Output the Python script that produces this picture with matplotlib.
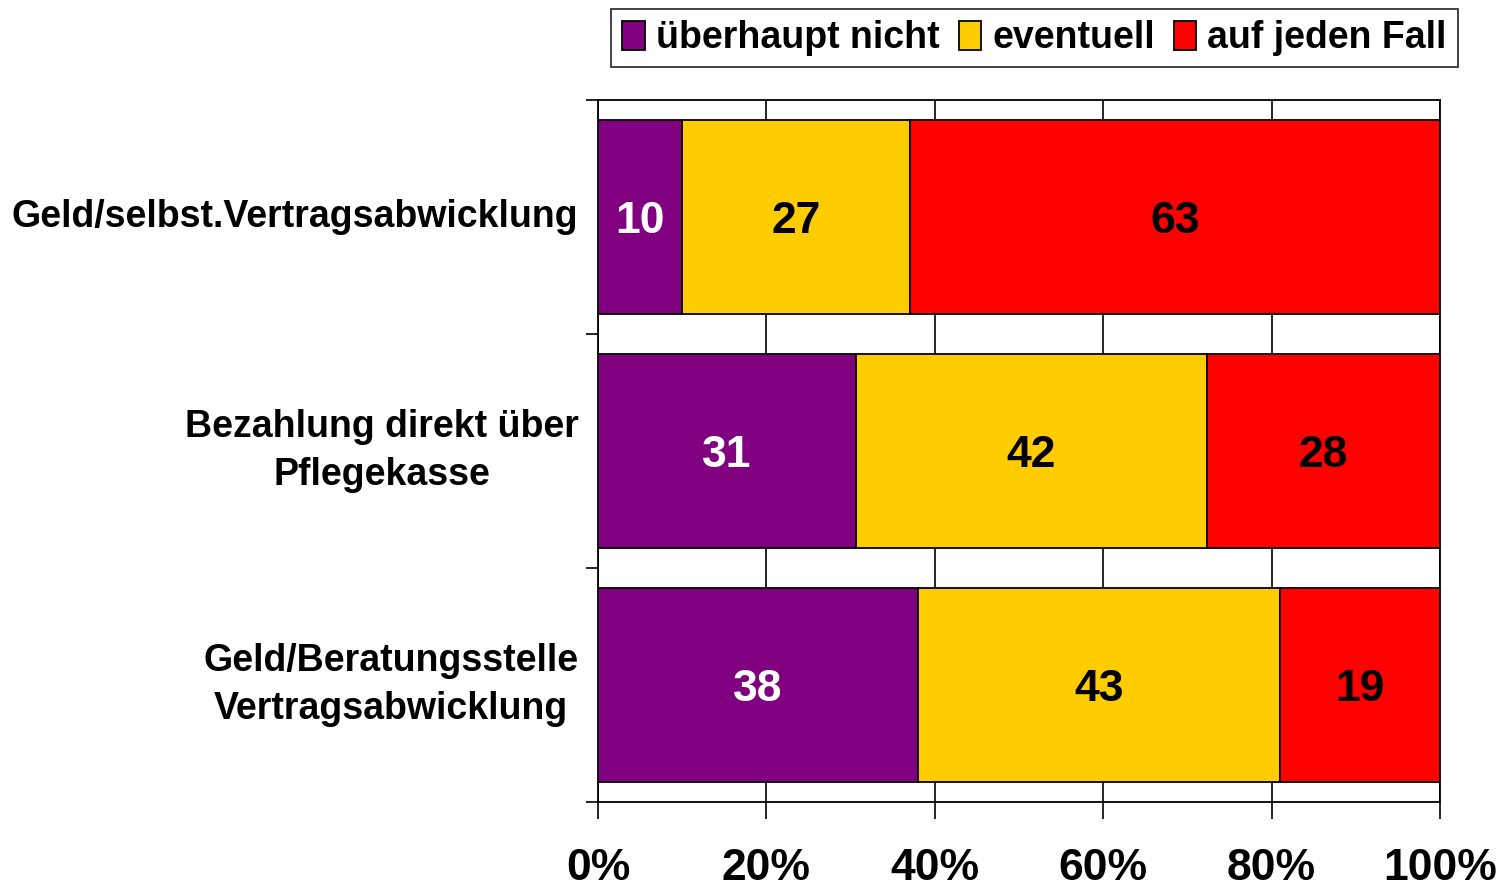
import matplotlib
matplotlib.use("Agg")
import matplotlib.pyplot as plt
import numpy as np

plt.rcParams['font.family'] = ['Liberation Sans', 'DejaVu Sans']
plt.rcParams['font.weight'] = 'bold'

categories = ["Geld/selbst.Vertragsabwicklung",
              "Bezahlung direkt über\nPflegekasse",
              "Geld/Beratungsstelle\nVertragsabwicklung"]
series_names = ["überhaupt nicht", "eventuell", "auf jeden Fall"]
ueberhaupt_nicht = [10, 31, 38]
eventuell = [27, 42, 43]
auf_jeden_fall = [63, 28, 19]
series_colors = ["#800080", "#FFCC00", "#FF0000"]
label_colors = ["white", "black", "black"]
x_ticks = [0, 20, 40, 60, 80, 100]
x_tick_labels = ["0%", "20%", "40%", "60%", "80%", "100%"]

values = np.array([ueberhaupt_nicht, eventuell, auf_jeden_fall], dtype=float)
shares = values / values.sum(axis=0) * 100

fig = plt.figure(figsize=(15.01, 8.88), dpi=100)
ax = fig.add_axes([598 / 1501, 1 - 802 / 888, (1440 - 598) / 1501, (802 - 100) / 888])

y = np.arange(len(categories))
left = np.zeros(len(categories))
handles = []
for i, name in enumerate(series_names):
    bars = ax.barh(y, shares[i], left=left, height=0.83, color=series_colors[i],
                   edgecolor="black", linewidth=1.3, label=name, zorder=3)
    handles.append(bars)
    for j in range(len(categories)):
        ax.text(left[j] + shares[i][j] / 2, y[j], f"{values[i][j]:.0f}",
                ha="center", va="center_baseline", fontsize=32, fontweight="bold",
                color=label_colors[i], zorder=4)
    left = left + shares[i]

ax.set_xlim(0, 100)
ax.set_ylim(len(categories) - 0.5, -0.5)

ax.set_xticks(x_ticks)
ax.set_xticklabels(x_tick_labels, fontsize=32, fontweight="bold")
ax.tick_params(axis="x", length=12, width=1.2, pad=21, direction="out")
ax.xaxis.grid(True, color="black", linewidth=1.2, zorder=0)
ax.set_axisbelow(True)

# category boundaries as major ticks, category names as minor ticks
ax.set_yticks(np.arange(-0.5, len(categories), 1.0))
ax.set_yticklabels([])
ax.tick_params(axis="y", which="major", length=9, width=1.2, direction="out")
ax.set_yticks(y, minor=True)
ax.set_yticklabels(categories, minor=True, fontsize=27, fontweight="bold",
                   multialignment="center", linespacing=1.4, va="center")
ax.tick_params(axis="y", which="minor", length=0, pad=14)

for s in ax.spines.values():
    s.set_linewidth(1.3)
    s.set_color("black")

leg = fig.legend(handles=handles, labels=series_names, loc="upper right",
                 bbox_to_anchor=(1458 / 1501, 1 - 9 / 888), ncol=3,
                 frameon=True, fancybox=False, shadow=False, edgecolor="black",
                 prop={"size": 27, "weight": "bold"}, handlelength=0.6,
                 handleheight=0.8, handletextpad=0.3, columnspacing=0.5,
                 borderpad=0.3, borderaxespad=0.0)
leg.get_frame().set_linewidth(1.3)

fig.savefig("out.png", dpi=100)
